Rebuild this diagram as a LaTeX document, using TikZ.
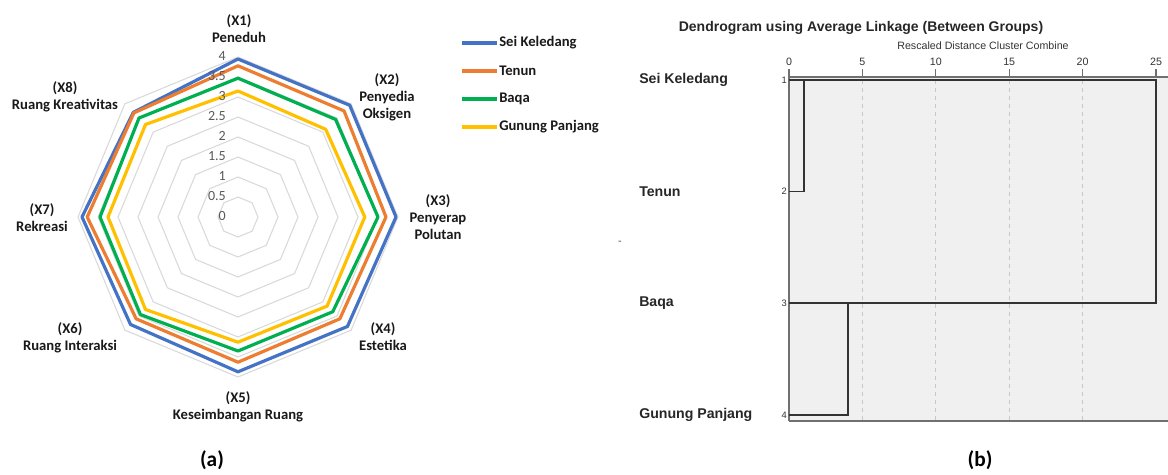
\documentclass[tikz,border=0pt]{standalone}
\usepackage{fontspec}
\setmainfont{Carlito}
\newfontfamily\arialf{Liberation Sans}
\definecolor{sblue}{HTML}{4472C4}
\definecolor{sorange}{HTML}{ED7D31}
\definecolor{sgreen}{HTML}{00B050}
\definecolor{syellow}{HTML}{FFC000}
\definecolor{gridgray}{HTML}{D9D9D9}
\definecolor{axisgray}{HTML}{595959}
\definecolor{dgbg}{HTML}{F0F0F0}
\definecolor{dgaxis}{HTML}{707070}
\definecolor{dgdash}{HTML}{C8C8C8}
\begin{document}
\begin{tikzpicture}[x=0.75pt,y=-0.75pt,
  series/.style={line width=2.4pt, line join=round},
  gridline/.style={draw=gridgray, line width=0.8pt},
  axlab/.style={font=\fontsize{11}{12.75}\selectfont\bfseries, text=black!90, align=center, inner sep=0pt},
  scalelab/.style={font=\fontsize{10.5}{12}\selectfont, text=axisgray, anchor=east, inner sep=0pt},
  leglab/.style={font=\fontsize{11}{13}\selectfont\bfseries, text=black!90, anchor=west, inner sep=0pt},
  legline/.style={line width=2.4pt},
  rowlab/.style={font=\arialf\fontsize{10.6}{12}\selectfont\bfseries, text=black!85, anchor=west, inner sep=0pt},
  smalllab/.style={font=\arialf\fontsize{8}{9}\selectfont, text=black!80, inner sep=0pt},
  rownum/.style={font=\arialf\fontsize{7}{8}\selectfont, text=black!80, anchor=east, inner sep=0pt},
  link/.style={draw=black!80, line width=1.1pt},
  axisln/.style={draw=dgaxis, line width=1pt},
  dashln/.style={draw=dgdash, line width=0.8pt, dash pattern=on 3pt off 3pt},
  caption/.style={font=\fontsize{16}{18}\selectfont\bfseries, inner sep=0pt}
]
\useasboundingbox (0,0) rectangle (1168,475);

% ---------------- radar chart ----------------
\begin{scope}[shift={(238,217)}, y=0.75pt]
  \coordinate (rc) at (0,0);
  \foreach \v in {0.5,1,...,4}
    \draw[gridline] plot[samples at={90,45,...,-225}] (\x:{40*\v}) -- cycle;
  \draw[series, sblue]   (90:158) -- (45:158) -- (0:158) -- (-45:154.8) -- (-90:154.8) -- (-135:152) -- (180:156) -- (135:148) -- cycle;
  \draw[series, sorange] (90:151.2) -- (45:150) -- (0:148) -- (-45:144) -- (-90:145.2) -- (-135:144) -- (180:150.8) -- (135:147.2) -- cycle;
  \draw[series, sgreen]  (90:138.8) -- (45:138) -- (0:140) -- (-45:134) -- (-90:134) -- (-135:138) -- (180:138) -- (135:140) -- cycle;
  \draw[series, syellow] (90:126) -- (45:124) -- (0:126.8) -- (-45:126) -- (-90:125.2) -- (-135:130.8) -- (180:130) -- (135:130.8) -- cycle;
\end{scope}

\foreach \v/\t [count=\i] in {0/0,0.5/0.5,1/1,1.5/1.5,2/2,2.5/2.5,3/3,3.5/3.5,4/4}
  \node[scalelab] (sc\i) at (226,{216-40*\v}) {\t};

\node[axlab] (x1) at (239,28.5) {(X1)\\Peneduh};
\node[axlab] (x2) at (387,97) {(X2)\\Penyedia\\Oksigen};
\node[axlab] (x3) at (438,217) {(X3)\\Penyerap\\Polutan};
\node[axlab] (x4) at (383,337) {(X4)\\Estetika};
\node[axlab] (x5) at (238,407) {(X5)\\Keseimbangan Ruang};
\node[axlab] (x6) at (70,338) {(X6)\\Ruang Interaksi};
\node[axlab] (x7) at (42,217.5) {(X7)\\Rekreasi};
\node[axlab] (x8) at (65,96.5) {(X8)\\Ruang Kreativitas};

% legend
\node[leglab] (l1) at (499,43) {Sei Keledang};
\node[leglab] (l2) at (499,71) {Tenun};
\node[leglab] (l3) at (499,99) {Baqa};
\node[leglab] (l4) at (499,127) {Gunung Panjang};
\coordinate (lb1) at (462,43);
\coordinate (lb2) at (462,71);
\coordinate (lb3) at (462,99);
\coordinate (lb4) at (462,127);
\draw[legline, sblue]   (lb1) -- ([xshift=-1.5pt]l1.west);
\draw[legline, sorange] (lb2) -- ([xshift=-1.5pt]l2.west);
\draw[legline, sgreen]  (lb3) -- ([xshift=-1.5pt]l3.west);
\draw[legline, syellow] (lb4) -- ([xshift=-1.5pt]l4.west);

\node[caption] (capa) at (212,460) {(a)};

% ---------------- dendrogram ----------------
\node[font=\arialf\fontsize{10.5}{12}\selectfont\bfseries, text=black!85, inner sep=0pt] (title) at (861,28) {Dendrogram using Average Linkage (Between Groups)};
\node[smalllab] (sub) at (983,46) {Rescaled Distance Cluster Combine};

\fill[dgbg] (789,77) rectangle (1168,421);
\foreach \d in {5,10,15,20}
  \draw[dashln] ({789+14.68*\d},80) -- ({789+14.68*\d},421);
\draw[axisln] (789,421) -- (789,77) -- (1168,77);
\draw[axisln] (789,421) -- (1168,421);
\foreach \d [count=\i] in {0,5,10,15,20,25}{
  \coordinate (tk\i) at ({789+14.68*\d},77);
  \draw[axisln] (tk\i) -- ++(0,-8);
  \node[smalllab] (tl\i) at ({789+14.68*\d},62) {\d};
}

\coordinate (r1) at (789,80);
\coordinate (r2) at (789,191.5);
\coordinate (r3) at (789,303);
\coordinate (r4) at (789,415);
\coordinate (j12) at (804,80);
\coordinate (j12b) at (804,191.5);
\coordinate (j34) at (848,303);
\coordinate (j34b) at (848,415);
\coordinate (jt) at (1156,80);
\coordinate (jtb) at (1156,303);
\draw[link] (r1) -- (jt) -- (jtb) -- (r3);
\draw[link] (j12) -- (j12b) -- (r2);
\draw[link] (j34) -- (j34b) -- (r4);

\node[rownum] (k1) at (787,80) {1};
\node[rownum] (k2) at (787,191.5) {2};
\node[rownum] (k3) at (787,303) {3};
\node[rownum] (k4) at (787,415) {4};

\node[rowlab] (n1) at (639,80) {Sei Keledang};
\node[rowlab] (n2) at (639,191.5) {Tenun};
\node[rowlab] (n3) at (639,303) {Baqa};
\node[rowlab] (n4) at (639,415) {Gunung Panjang};

\node[smalllab, text=black!70] (stray) at (620,243) {-};

\node[caption] (capb) at (980,460) {(b)};
\end{tikzpicture}
\end{document}
